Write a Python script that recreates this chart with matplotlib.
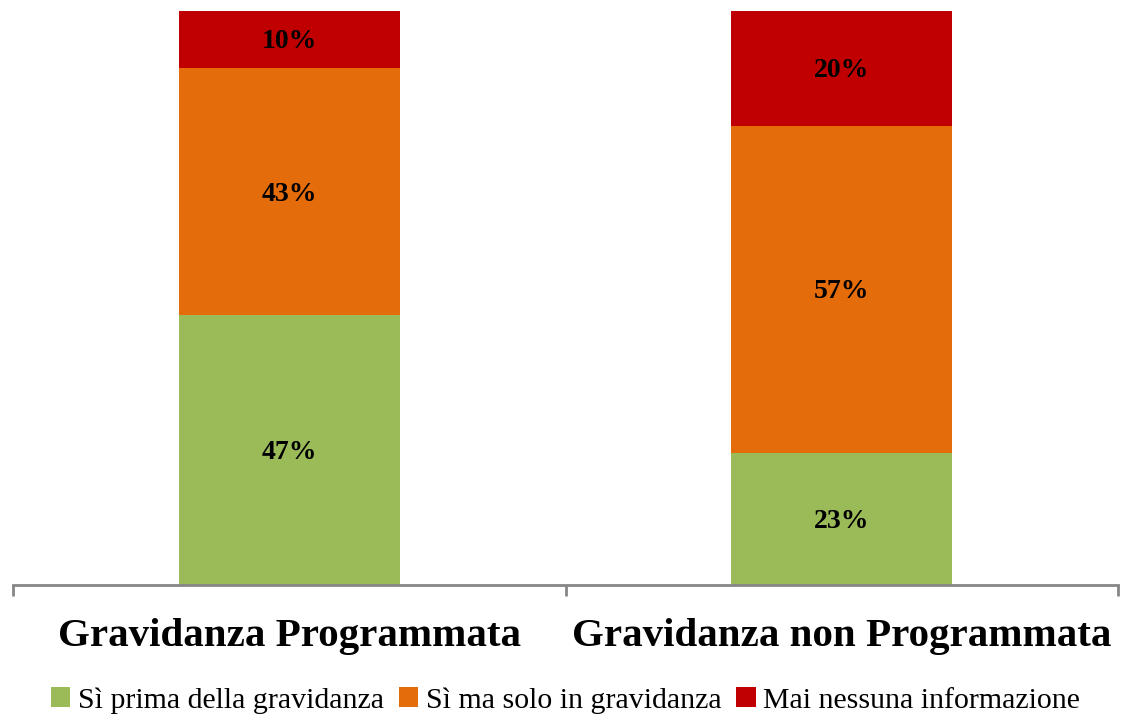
import matplotlib.pyplot as plt

categories = ["Gravidanza Programmata", "Gravidanza non Programmata"]
series = ["Sì prima della gravidanza", "Sì ma solo in gravidanza", "Mai nessuna informazione"]
values = {
    "Sì prima della gravidanza": [47, 23],
    "Sì ma solo in gravidanza": [43, 57],
    "Mai nessuna informazione": [10, 20],
}
colors = ["#9BBB59", "#E46C0A", "#C00000"]

plt.rcParams["font.family"] = ["Liberation Serif", "DejaVu Serif"]

fig = plt.figure(figsize=(11.22, 7.17), dpi=100)
ax = fig.add_axes([13 / 1122, 132 / 717, 1105 / 1122, 574 / 717])

x = list(range(len(categories)))
bottom = [0] * len(categories)
for name, col in zip(series, colors):
    vals = values[name]
    ax.bar(x, vals, width=0.4, bottom=bottom, color=col, label=name)
    for xi, v, b in zip(x, vals, bottom):
        ax.text(xi, b + v / 2 - 0.4, f"{v}%", ha="center", va="center",
                fontsize=20, fontweight="bold", color="black")
    bottom = [b + v for b, v in zip(bottom, vals)]

ax.set_xlim(-0.5, 1.5)
ax.set_ylim(0, 100)
ax.set_yticks([])
for s in ["top", "right", "left"]:
    ax.spines[s].set_visible(False)
ax.spines["bottom"].set_color("#868686")
ax.spines["bottom"].set_linewidth(2)

ax.set_xticks(x)
ax.set_xticklabels(categories, fontsize=29.5, fontweight="bold")
ax.tick_params(axis="x", which="major", length=0, pad=24)
ax.set_xticks([-0.5, 0.5, 1.5], minor=True)
ax.tick_params(axis="x", which="minor", length=8, width=2, color="#868686", direction="out")

ax.legend(loc="lower center", bbox_to_anchor=(0.5, -0.245), ncol=3, frameon=False,
          fontsize=21.5, handlelength=0.65, handleheight=0.65, handletextpad=0.25,
          columnspacing=0.5, borderaxespad=0)

fig.savefig("out.png", dpi=100)
